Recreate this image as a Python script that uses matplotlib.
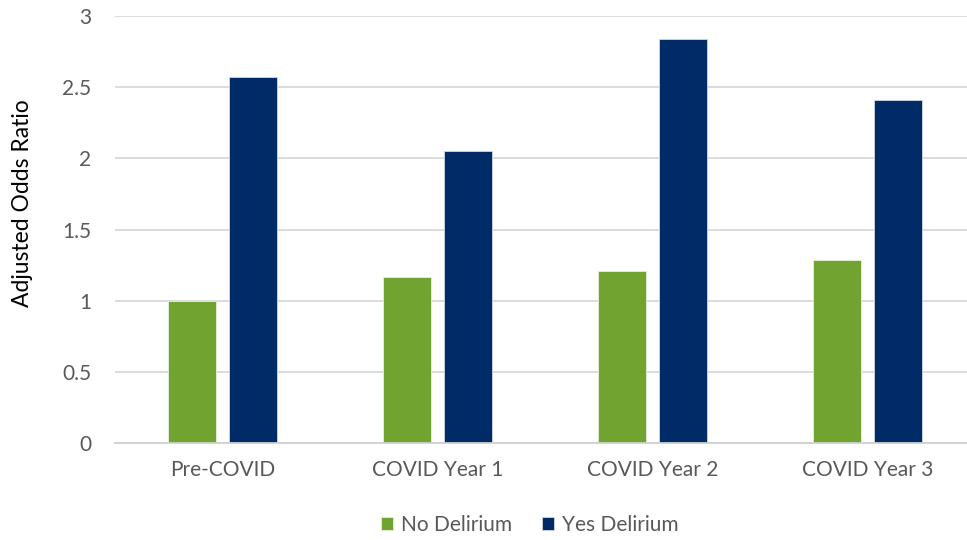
import matplotlib
matplotlib.use("Agg")
import matplotlib.pyplot as plt
import numpy as np

categories = ["Pre-COVID", "COVID Year 1", "COVID Year 2", "COVID Year 3"]
no_delirium = [1.00, 1.17, 1.21, 1.29]
yes_delirium = [2.57, 2.05, 2.84, 2.41]
y_ticks = [0, 0.5, 1, 1.5, 2, 2.5, 3]
y_tick_labels = ["0", "0.5", "1", "1.5", "2", "2.5", "3"]

plt.rcParams["font.family"] = ["Lato", "DejaVu Sans"]

GREEN = "#70A32F"
NAVY = "#002B66"
GRID = "#D9D9D9"
TEXT = "#595959"

fig = plt.figure(figsize=(9.67, 5.40), dpi=100)
ax = fig.add_axes([115 / 967, 1 - 443.3 / 540, 860 / 967, (443.3 - 16) / 540])

x = np.arange(len(categories))
w = 0.223
off = 0.142
ax.bar(x - off, no_delirium, width=w, color=GREEN, edgecolor="#E8F0DC",
       linewidth=0.6, label="No Delirium", zorder=3)
ax.bar(x + off, yes_delirium, width=w, color=NAVY, edgecolor="#D0D8E6",
       linewidth=0.6, label="Yes Delirium", zorder=3)

ax.set_xlim(-0.5, 3.5)
ax.set_ylim(0, 3)
ax.set_yticks(y_ticks)
ax.set_yticklabels(y_tick_labels)
ax.set_xticks(x)
ax.set_xticklabels(categories)

ax.grid(axis="y", color=GRID, linewidth=1.3, zorder=0)
ax.set_axisbelow(True)
for s in ["top", "right", "left"]:
    ax.spines[s].set_visible(False)
ax.spines["bottom"].set_color("#D0D0D0")
ax.spines["bottom"].set_linewidth(1.3)
ax.spines["bottom"].set_zorder(4)

ax.tick_params(axis="both", length=0, labelsize=15, labelcolor=TEXT)
ax.tick_params(axis="y", pad=17)
ax.tick_params(axis="x", pad=12)

ax.set_ylabel("Adjusted Odds Ratio", fontsize=16.5, color="black")
ax.yaxis.set_label_coords(-0.0953, 0.562)

leg = fig.legend(loc="center", bbox_to_anchor=(529.5 / 967, 1 - 525 / 540), ncol=2,
                 frameon=False, fontsize=15, handlelength=0.6, handleheight=0.6,
                 handletextpad=0.35, columnspacing=1.45)
for t in leg.get_texts():
    t.set_color(TEXT)

fig.savefig("out.png", dpi=100)
